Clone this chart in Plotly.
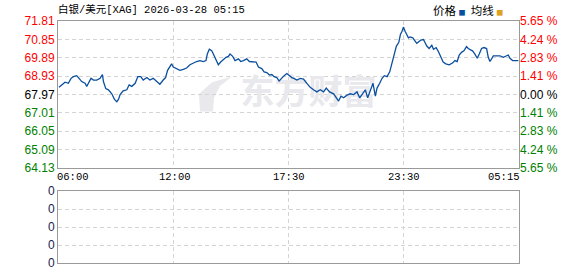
import plotly.graph_objects as go

# ---------------- data ----------------
title_text = "白银/美元[XAG] 2026-03-28 05:15"
time_labels = ["06:00", "12:00", "17:30", "23:30", "05:15"]
label_slots = [0, 345, 690, 1035, 1380]

slots = [3, 11, 21, 31, 39, 46, 56, 63, 71, 81, 86, 91, 99, 106, 116, 126, 133, 136, 143, 151,
         161, 169, 176, 181, 186, 195, 206, 213, 221, 231, 239, 248, 255, 266, 275, 285, 295, 305,
         315, 322, 328, 335, 340, 345, 355, 365, 375, 385, 395, 405, 415, 425, 435, 443, 447, 453,
         460, 465, 473, 480, 487, 495, 503, 510, 515, 523, 530, 540, 547, 555, 565, 573, 583, 593,
         600, 610, 617, 625, 633, 640, 647, 655, 662, 670, 677, 685, 692, 700, 706, 715, 725, 735,
         745, 755, 765, 775, 785, 795, 803, 813, 825, 833, 840, 847, 855, 865, 875, 885, 895, 903,
         910, 920, 927, 935, 943, 950, 955, 963, 970, 977, 985, 993, 1000, 1005, 1013, 1020, 1025,
         1030, 1034, 1039, 1044, 1049, 1054, 1062, 1069, 1074, 1079, 1086, 1094, 1099, 1104, 1111,
         1119, 1124, 1132, 1139, 1146, 1153, 1161, 1171, 1182, 1188, 1195, 1201, 1208, 1215, 1223,
         1228, 1235, 1241, 1248, 1255, 1261, 1268, 1275, 1283, 1288, 1293, 1298, 1303, 1313, 1323,
         1333, 1341, 1348, 1353, 1361, 1368, 1378]

prices = [68.34, 68.47, 68.61, 68.55, 68.81, 68.90, 68.95, 68.81, 68.64, 68.55, 68.39, 68.55, 68.81,
          68.72, 68.72, 68.81, 69.01, 68.64, 68.27, 68.21, 68.00, 67.71, 67.59, 67.71, 67.96, 68.16,
          68.21, 68.47, 68.39, 68.55, 68.90, 68.90, 68.72, 68.85, 68.72, 68.81, 68.67, 68.50, 68.72,
          68.85, 69.23, 69.40, 69.57, 69.40, 69.32, 69.23, 69.28, 69.35, 69.52, 69.61, 69.69, 69.74,
          69.69, 69.74, 70.08, 70.33, 70.25, 70.08, 69.74, 69.52, 69.66, 69.79, 69.91, 69.96, 70.08,
          69.96, 69.74, 69.83, 69.69, 69.74, 69.83, 69.69, 69.66, 69.66, 69.40, 69.32, 69.15, 69.11,
          68.98, 69.01, 68.90, 68.85, 68.67, 68.85, 68.95, 69.06, 68.95, 68.85, 68.81, 68.72, 68.81,
          68.77, 68.55, 68.34, 68.21, 68.10, 68.21, 68.10, 68.30, 68.10, 68.00, 67.79, 67.62, 67.88,
          67.79, 67.93, 68.00, 67.96, 68.10, 67.79, 67.96, 68.21, 67.79, 68.13, 68.55, 67.88, 68.30,
          68.55, 68.81, 68.95, 68.90, 69.15, 69.66, 69.99, 70.50, 70.68, 71.10, 71.27, 71.49, 71.27,
          71.10, 70.93, 70.98, 70.93, 70.76, 70.64, 70.71, 70.81, 70.84, 70.64, 70.50, 70.37, 70.54,
          70.33, 70.42, 70.20, 69.91, 69.66, 69.57, 69.52, 69.62, 69.74, 69.69, 70.03, 70.17, 70.25,
          70.47, 70.37, 70.30, 70.25, 70.08, 69.86, 70.08, 70.37, 70.42, 70.37, 69.91, 69.69, 69.83,
          69.99, 69.99, 69.99, 69.91, 69.96, 70.03, 69.86, 69.74, 69.74, 69.74]

base_price = 67.97
price_ticks = [71.81, 70.85, 69.89, 68.93, 67.97, 67.01, 66.05, 65.09, 64.13]
pct_ticks = ["5.65", "4.24", "2.83", "1.41", "0.00", "1.41", "2.83", "4.24", "5.65"]
volume_ticks = [0, 1, 2, 3, 4]
volume_labels = ["0", "0", "0", "0", "0"]

# ---------------- style ----------------
LINE = "#0b4f9f"
RED = "#ff0000"
GREEN = "#008000"
GRID = "#d4d4d4"
BORDER = "#9a9a9a"
W, H = 578, 276
L, R, T, B = 58, 519, 21, 270


def px(xp):
    return (xp - L) / (R - L)


def py(yp):
    return (B - yp) / (B - T)


def tick_color(v):
    if v > base_price:
        return RED
    if v < base_price:
        return GREEN
    return "#000000"


left_text = [f'<span style="color:{tick_color(v)}">{v:.2f}</span>' for v in price_ticks]
right_text = [f'<span style="color:{tick_color(v)}">{p} %</span>' for v, p in zip(price_ticks, pct_ticks)]

fig = go.Figure()

# watermark (under the line)
fig.add_trace(go.Scatter(x=[750], y=[67.93], mode="text", text=["东方财富"],
                         textfont=dict(family="Noto Sans CJK SC", size=34, color="#e8e8ed", weight="bold"),
                         hoverinfo="skip", showlegend=False, xaxis="x", yaxis="y"))

fig.add_trace(go.Scatter(x=slots, y=prices, mode="lines", line=dict(color=LINE, width=1.3),
                         showlegend=False, xaxis="x", yaxis="y"))
# invisible trace for the right axis
fig.add_trace(go.Scatter(x=[slots[0]], y=[prices[0]], mode="markers", marker=dict(opacity=0),
                         showlegend=False, xaxis="x", yaxis="y3", hoverinfo="skip"))
# lower (volume) panel placeholder
fig.add_trace(go.Scatter(x=[slots[0]], y=[0], mode="markers", marker=dict(opacity=0),
                         showlegend=False, xaxis="x2", yaxis="y2", hoverinfo="skip"))

main_dom = [py(172), 1.0]
low_dom = [0.0, py(196)]

axis_common = dict(showline=True, mirror=True, linecolor=BORDER, linewidth=1,
                   showgrid=True, gridcolor=GRID, griddash="4px,3px", gridwidth=1,
                   zeroline=False, ticks="")

fig.update_layout(
    width=W, height=H, margin=dict(l=L, r=W - R, t=T, b=H - B),
    paper_bgcolor="white", plot_bgcolor="white",
    font=dict(family="Liberation Sans, Arial", size=12, color="#000"),
    xaxis=dict(domain=[0, 1], range=[0, 1380], tickvals=label_slots[1:-1], showticklabels=False,
               anchor="y", **axis_common),
    yaxis=dict(domain=main_dom, range=[price_ticks[-1], price_ticks[0]], tickvals=price_ticks,
               ticktext=left_text, tickfont=dict(family="Liberation Sans, Arial", size=12),
               anchor="x", **axis_common),
    yaxis3=dict(overlaying="y", side="right", range=[price_ticks[-1], price_ticks[0]],
                tickvals=price_ticks, ticktext=right_text, showgrid=False, showline=False,
                zeroline=False, ticks="", anchor="x",
                tickfont=dict(family="Liberation Sans, Arial", size=12)),
    xaxis2=dict(domain=[0, 1], range=[0, 1380], tickvals=label_slots[1:-1], showticklabels=False,
                anchor="y2", **axis_common),
    yaxis2=dict(domain=low_dom, range=[0, 4], tickvals=volume_ticks, ticktext=volume_labels,
                tickfont=dict(family="Liberation Sans, Arial", size=12, color="#1a2450"),
                anchor="x2", **axis_common),
    showlegend=False,
)

# time labels
anchors = ["left", "center", "center", "center", "right"]
shifts = [-3, 2, 0, 0, 3]
for s, lab, a, sh in zip(label_slots, time_labels, anchors, shifts):
    fig.add_annotation(x=s, xref="x", y=py(181.5), yref="paper", text=lab, showarrow=False,
                       xanchor=a, yanchor="middle", xshift=sh,
                       font=dict(family="Liberation Mono, DejaVu Sans Mono", size=10.5, color="#000"))

# title
fig.add_annotation(x=0, xref="paper", y=py(9), yref="paper", text=title_text, showarrow=False,
                   xanchor="left", yanchor="middle", xshift=-2,
                   font=dict(family="Liberation Mono, Noto Sans CJK SC", size=10.5, color="#000"))

# legend text
legend_html = ('价格 <span style="color:#0b4f9f;font-size:7px">■</span>  均线 '
               '<span style="color:#e0a020;font-size:7px">■</span>')
fig.add_annotation(x=px(431), xref="paper", y=py(10), yref="paper", text=legend_html,
                   showarrow=False, xanchor="left", yanchor="middle",
                   font=dict(family="Noto Sans CJK SC", size=11.5, color="#000"))

# watermark logo (simple leaf)
pts = [(200, 114), (199, 96), (212, 84), (232, 78), (220, 88), (214, 100), (213, 114)]
path = "M " + " L ".join(f"{px(a):.4f},{py(b):.4f}" for a, b in pts) + " Z"
fig.add_shape(type="path", path=path, xref="paper", yref="paper", fillcolor="#e8e8ed",
              line=dict(width=0), layer="below")

fig.write_html("out.html")
